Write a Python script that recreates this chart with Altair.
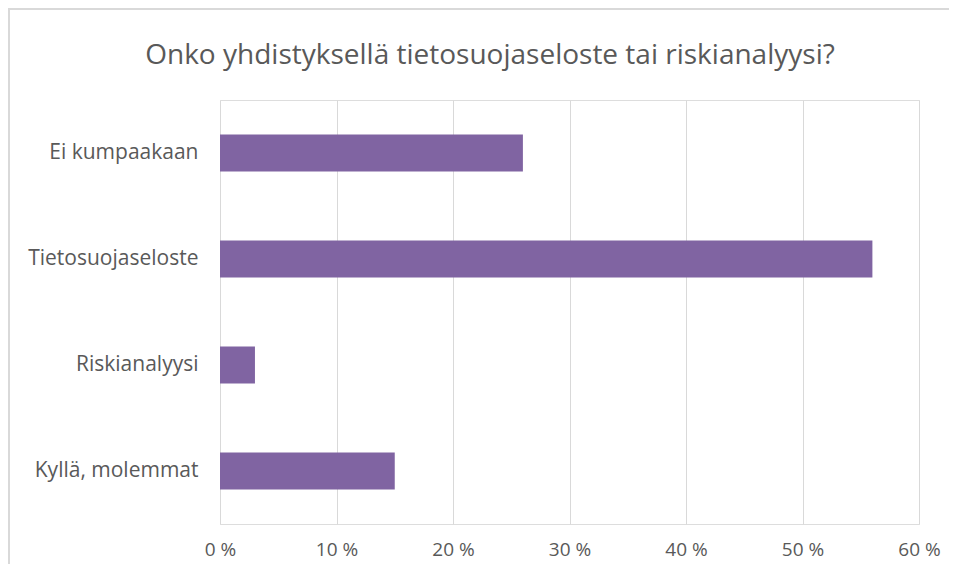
import altair as alt
import pandas as pd

title_text = "Onko yhdistyksellä tietosuojaseloste tai riskianalyysi?"
categories = ["Ei kumpaakaan", "Tietosuojaseloste", "Riskianalyysi", "Kyllä, molemmat"]
values = [26, 56, 3, 15]
x_ticks = [0, 10, 20, 30, 40, 50, 60]

df = pd.DataFrame({"vastaus": categories, "osuus": values})
title_df = pd.DataFrame({"t": [title_text]})

FONT = "Open Sans"
TEXT = "#595959"
FRAME = "#d9d9d9"

bars = alt.Chart(df).mark_bar(color="#8064A2").encode(
    x=alt.X(
        "osuus:Q",
        scale=alt.Scale(domain=[0, 60], nice=False),
        axis=alt.Axis(
            values=x_ticks,
            labelExpr="datum.value + ' %'",
            labelFlush=False,
            title=None,
            domain=False,
            ticks=False,
            grid=True,
            gridColor="#d9d9d9",
            gridWidth=1,
            labelPadding=16,
            labelFontSize=19,
            labelColor=TEXT,
            labelFont=FONT,
        ),
    ),
    y=alt.Y(
        "vastaus:N",
        sort=categories,
        scale=alt.Scale(paddingInner=0.65, paddingOuter=0.325),
        axis=alt.Axis(
            title=None,
            domain=False,
            ticks=False,
            labelPadding=22,
            labelFontSize=21,
            labelColor=TEXT,
            labelFont=FONT,
            labelLimit=300,
        ),
    ),
)

frame_top = alt.Chart(title_df).mark_rule(color=FRAME, strokeWidth=2).encode(
    x=alt.value(-211), x2=alt.value(800), y=alt.value(-91)
)
frame_left = alt.Chart(title_df).mark_rule(color=FRAME, strokeWidth=2).encode(
    x=alt.value(-211), y=alt.value(-92), y2=alt.value(600)
)

title = alt.Chart(title_df).mark_text(
    font=FONT, fontSize=28, color=TEXT, align="center", baseline="alphabetic"
).encode(
    text="t:N",
    x=alt.value(270),
    y=alt.value(-36),
)

chart = (
    alt.layer(frame_top, frame_left, bars, title)
    .properties(
        width=699,
        height=424,
        padding={"left": 212, "top": 92, "right": 30, "bottom": 40},
        autosize=alt.AutoSizeParams(type="none"),
    )
    .configure_view(stroke=None)
    .configure(background="white")
)

chart.save("out.html", embed_options={"renderer": "svg", "actions": False})
